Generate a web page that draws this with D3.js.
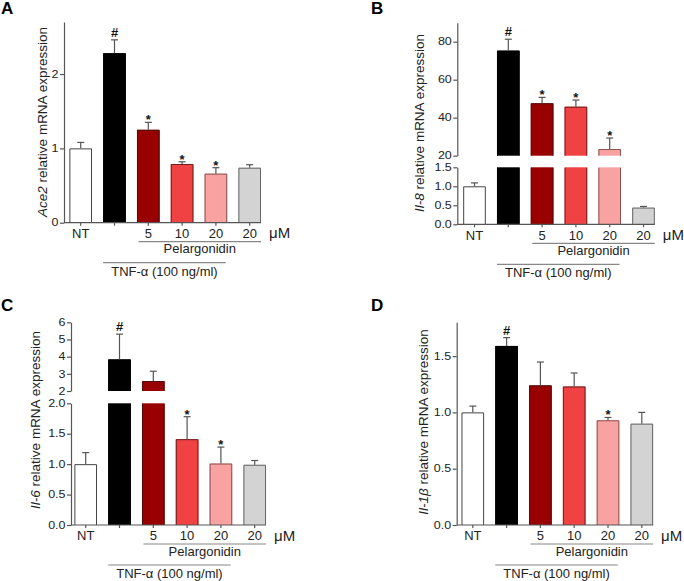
<!DOCTYPE html>
<html>
<head>
<meta charset="utf-8">
<script src="https://cdn.jsdelivr.net/npm/d3@7"></script>
<style>
  html, body { margin: 0; padding: 0; background: #fff; }
  svg { display: block; }
  text { font-family: "Liberation Sans", Arial, sans-serif; fill: #222; }
</style>
</head>
<body>
<svg id="chart" width="684" height="581"></svg>
<script>
// ---------------- DATA ----------------
const categories = ["NT", "TNF", "P5", "P10", "P20", "P20only"];
const xLabels = ["NT", "", "5", "10", "20", "20"];
const barColors = ["#ffffff", "#000000", "#990000", "#f04242", "#f9a2a2", "#d3d3d3"];
const barStrokes = ["#444444", "#000000", "#4a1010", "#6a2020", "#8a5050", "#666666"];

const ace2Values = [1.0, 2.28, 1.25, 0.79, 0.66, 0.74];
const ace2Errors = [0.08, 0.18, 0.10, 0.03, 0.08, 0.04];
const ace2Marks  = ["", "#", "*", "*", "*", ""];

const il8Values = [1.0, 75.3, 47.6, 45.8, 23.5, 0.44];
const il8Errors = [0.09, 6.0, 3.1, 3.5, 5.8, 0.03];
const il8Marks  = ["", "#", "*", "*", "*", ""];

const il6Values = [1.0, 3.84, 2.58, 1.41, 1.01, 0.99];
const il6Errors = [0.19, 1.47, 0.57, 0.37, 0.27, 0.07];
const il6Marks  = ["", "#", "", "*", "*", ""];

const il1bValues = [1.0, 1.59, 1.24, 1.23, 0.93, 0.90];
const il1bErrors = [0.056, 0.074, 0.207, 0.12, 0.025, 0.10];
const il1bMarks  = ["", "#", "", "", "*", ""];

const ace2Ticks = [0, 1, 2];
const il8LowerTicks = [0, 0.5, 1.0, 1.5];
const il8UpperTicks = [20, 40, 60, 80];
const il6LowerTicks = [0, 0.5, 1.0, 1.5, 2.0];
const il6UpperTicks = [2, 3, 4, 5, 6];
const il1bTicks = [0, 0.5, 1.0, 1.5];

const pelargonidinLabel = "Pelargonidin";
const tnfLabel = "TNF-α (100 ng/ml)";
const unitLabel = "μM";

// ---------------- LAYOUT ----------------
const STEP = 33.8;
const panels = [
  { letter: "A", lx: 1, ly: 14, ax: 64, x0: 63.8, base: 222.7,
    values: ace2Values, errors: ace2Errors, marks: ace2Marks,
    gene: "Ace2", titleX: 42, titleY: 122,
    segments: [{ domain: [0, 2.7], range: [222.7, 22], ticks: ace2Ticks, fmt: d3.format("d") }] },
  { letter: "B", lx: 371, ly: 14, ax: 457.3, x0: 457.6, base: 224.3,
    values: il8Values, errors: il8Errors, marks: il8Marks,
    gene: "Il-8", titleX: 419, titleY: 123,
    segments: [
      { domain: [0, 1.5], range: [224.3, 167.3], ticks: il8LowerTicks, fmt: d3.format(".1f") },
      { domain: [20, 90], range: [155.7, 22.7], ticks: il8UpperTicks, fmt: d3.format("d") }] },
  { letter: "C", lx: 1, ly: 311, ax: 71, x0: 68.8, base: 525,
    values: il6Values, errors: il6Errors, marks: il6Marks,
    gene: "Il-6", titleX: 35, titleY: 420,
    segments: [
      { domain: [0, 2], range: [525, 403.3], ticks: il6LowerTicks, fmt: d3.format(".1f") },
      { domain: [2, 6], range: [391, 322.3], ticks: il6UpperTicks, fmt: d3.format("d") }] },
  { letter: "D", lx: 371, ly: 311, ax: 456.7, x0: 455.9, base: 525,
    values: il1bValues, errors: il1bErrors, marks: il1bMarks,
    gene: "Il-1β", titleX: 423, titleY: 422,
    segments: [{ domain: [0, 1.8], range: [525, 322.3], ticks: il1bTicks, fmt: d3.format(".1f") }] }
];

const svg = d3.select("#chart");
const axisColor = "#555";

panels.forEach(p => {
  const g = svg.append("g");
  const x = d3.scaleBand().domain(categories)
    .range([p.x0, p.x0 + STEP * categories.length])
    .paddingInner(0.33).paddingOuter(0.165);
  const bw = x.bandwidth();
  const segs = p.segments.map(s => Object.assign({}, s, {
    scale: d3.scaleLinear().domain(s.domain).range(s.range)
  }));

  // panel letter
  g.append("text").attr("x", p.lx).attr("y", p.ly)
    .style("font-size", "17px").style("font-weight", "bold").style("fill", "#000")
    .text(p.letter);

  // bars
  categories.forEach((c, i) => {
    const v = p.values[i];
    const bx = x(c);
    segs.forEach((s, si) => {
      if (v <= s.domain[0] && si > 0) return;
      const top = Math.min(v, s.domain[1]);
      const yTop = s.scale(top), yBot = s.scale(s.domain[0]);
      g.append("rect").attr("x", bx).attr("y", yTop)
        .attr("width", bw).attr("height", yBot - yTop)
        .attr("fill", barColors[i]);
      const topInSeg = v <= s.domain[1];
      let d = `M${bx + 0.5},${yBot}V${yTop + 0.5}`;
      if (topInSeg) d += `H${bx + bw - 0.5}`; else d += `M${bx + bw - 0.5},${yTop + 0.5}`;
      d += `V${yBot}`;
      g.append("path").attr("d", d).attr("fill", "none")
        .attr("stroke", barStrokes[i]).attr("stroke-width", 1);
    });
    // error bar
    const seg = segs.find(s => v >= s.domain[0] && v <= s.domain[1]) || segs[segs.length - 1];
    const cx = bx + bw / 2;
    const yv = seg.scale(v), ye = seg.scale(v + p.errors[i]);
    g.append("line").attr("x1", cx).attr("x2", cx).attr("y1", yv).attr("y2", ye)
      .attr("stroke", "#555").attr("stroke-width", 1.2);
    g.append("line").attr("x1", cx - 3.5).attr("x2", cx + 3.5).attr("y1", ye).attr("y2", ye)
      .attr("stroke", "#555").attr("stroke-width", 1.2);
    // significance mark
    const m = p.marks[i];
    if (m) {
      g.append("text").attr("x", cx).attr("y", m === "#" ? ye - 3 : ye + 2)
        .attr("text-anchor", "middle")
        .style("font-size", m === "#" ? "13px" : "13px")
        .style("font-weight", "bold")
        .style("fill", "#111")
        .text(m);
    }
  });

  // y axis segments
  segs.forEach(s => {
    const ax = g.append("g").attr("transform", `translate(${p.ax},0)`)
      .call(d3.axisLeft(s.scale).tickValues(s.ticks).tickFormat(s.fmt)
        .tickSize(4).tickSizeOuter(0).tickPadding(1.5));
    ax.select(".domain").attr("stroke", axisColor).attr("stroke-width", 1.2);
    ax.selectAll(".tick line").attr("stroke", axisColor).attr("stroke-width", 1.2);
    ax.selectAll(".tick text").style("font-size", "12.5px")
      .style("font-family", "'Liberation Sans', Arial, sans-serif").attr("fill", "#222")
      .attr("transform", "scale(1,0.8)");
  });

  // x axis
  const xRight = x(categories[categories.length - 1]) + bw;
  const xa = g.append("g").attr("transform", `translate(0,${p.base})`)
    .call(d3.axisBottom(x).tickFormat((d, i) => xLabels[i]).tickSize(3).tickPadding(3));
  xa.select(".domain").remove();
  xa.selectAll(".tick line").attr("stroke", axisColor).attr("stroke-width", 1.2);
  xa.selectAll(".tick text").style("font-size", "13px")
    .style("font-family", "'Liberation Sans', Arial, sans-serif").attr("fill", "#222");
  g.append("line").attr("x1", p.ax).attr("x2", xRight).attr("y1", p.base).attr("y2", p.base)
    .attr("stroke", axisColor).attr("stroke-width", 1.2);

  // unit label
  g.append("text").attr("x", xRight + 8).attr("y", p.base + 15.5)
    .style("font-size", "15px").text(unitLabel);

  // Pelargonidin bracket
  const pL = x("P5") + 1.5, pR = xRight;
  g.append("line").attr("x1", pL).attr("x2", pR)
    .attr("y1", p.base + 19).attr("y2", p.base + 19)
    .attr("stroke", "#888").attr("stroke-width", 1.2);
  g.append("text").attr("x", (pL + pR) / 2).attr("y", p.base + 30.5)
    .attr("text-anchor", "middle").style("font-size", "13px").text(pelargonidinLabel);

  // TNF bracket
  const tL = x("TNF"), tR = x("P20") + bw - 1.5;
  g.append("line").attr("x1", tL).attr("x2", tR)
    .attr("y1", p.base + 40).attr("y2", p.base + 40)
    .attr("stroke", "#888").attr("stroke-width", 1.2);
  g.append("text").attr("x", (tL + tR) / 2).attr("y", p.base + 53)
    .attr("text-anchor", "middle").style("font-size", "13px").text(tnfLabel);

  // y title
  const t = g.append("text")
    .attr("transform", `translate(${p.titleX},${p.titleY}) rotate(-90)`)
    .attr("text-anchor", "middle").attr("dy", "0.35em")
    .style("font-size", "13.5px");
  t.append("tspan").style("font-style", "italic").text(p.gene);
  t.append("tspan").text(" relative mRNA expression");
});
</script>
</body>
</html>
